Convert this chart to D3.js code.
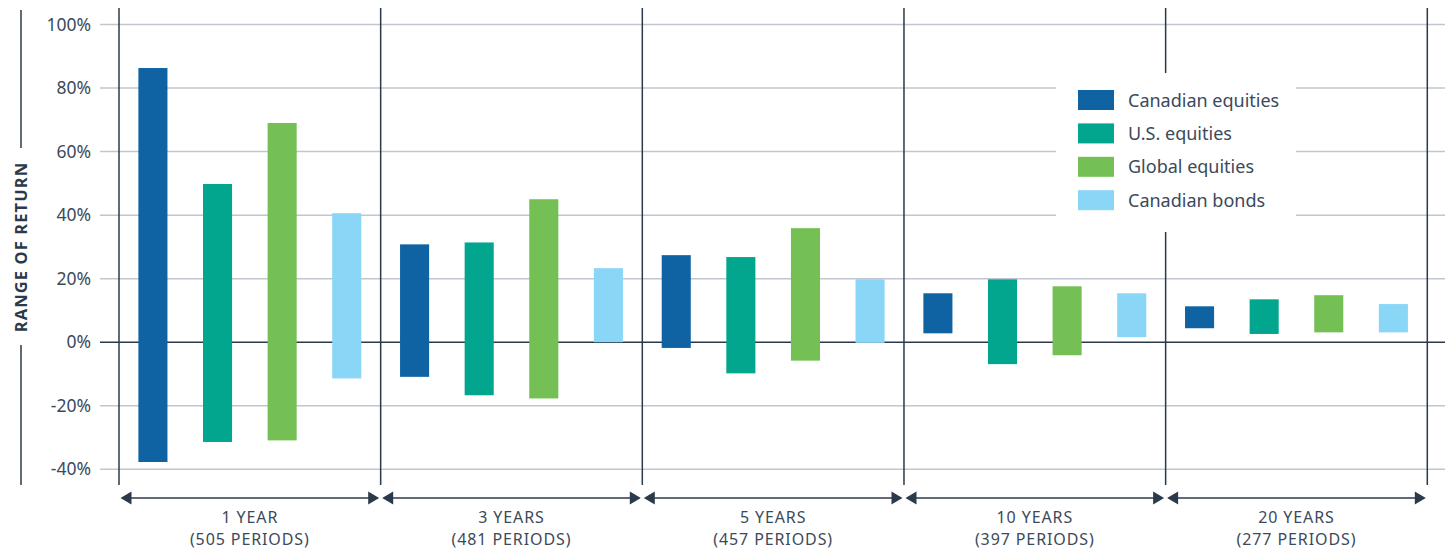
<!DOCTYPE html>
<html><head><meta charset="utf-8">
<script src="https://cdn.jsdelivr.net/npm/d3@7"></script>
<style>
html,body{margin:0;padding:0;background:#fff;}
svg{display:block;font-family:"Noto Sans",Lato,sans-serif;}
</style></head>
<body><svg id="c" width="1450" height="550"></svg>
<script>
const periods = ["1 YEAR","3 YEARS","5 YEARS","10 YEARS","20 YEARS"];
const periodCounts = ["(505 PERIODS)","(481 PERIODS)","(457 PERIODS)","(397 PERIODS)","(277 PERIODS)"];
const seriesNames = ["Canadian equities","U.S. equities","Global equities","Canadian bonds"];
const seriesColors = ["#0f63a2","#02a68e","#74c055","#89d6f6"];
// [low, high] per period
const canadianEquities = [[-37.7,86.3],[-10.9,30.8],[-1.8,27.4],[2.8,15.4],[4.4,11.3]];
const usEquities       = [[-31.4,49.8],[-16.7,31.4],[-9.8,26.8],[-6.9,19.8],[2.6,13.5]];
const globalEquities   = [[-30.9,69.0],[-17.7,45.0],[-5.8,35.9],[-4.1,17.6],[3.1,14.8]];
const canadianBonds    = [[-11.4,40.6],[0,23.3],[-0.2,19.8],[1.6,15.4],[3.1,12.0]];
const yTicks = [-40,-20,0,20,40,60,80,100];

const seriesData = [canadianEquities, usEquities, globalEquities, canadianBonds];
const svg = d3.select("#c");
const textCol = "#3b4a5a", dark = "#2b3a4a", gridCol = "#bfc6cd";

const x = d3.scaleBand().domain(periods).range([119, 1427.3]).padding(0);
const xs = d3.scaleBand().domain(seriesNames).range([0, x.bandwidth()]).paddingInner(0.55).paddingOuter(0.3);
const y = d3.scaleLinear().domain([-40, 100]).range([469.3, 24.5]);

// gridlines
svg.append("g").selectAll("line").data(yTicks).join("line")
  .attr("x1", 100).attr("x2", 1445)
  .attr("y1", d => y(d)).attr("y2", d => y(d))
  .attr("stroke", d => d === 0 ? dark : gridCol)
  .attr("stroke-width", 1.5);

// y axis labels
const yAxis = d3.axisLeft(y).tickValues(yTicks).tickFormat(d => d + "%").tickSize(0).tickPadding(0);
const ya = svg.append("g").attr("transform", "translate(91,0)").call(yAxis);
ya.select(".domain").remove();
ya.selectAll("text").attr("font-size", 17.5).attr("fill", textCol).attr("font-family", "'Noto Sans',Lato,sans-serif");

// vertical separators
const seps = periods.map(p => x(p)).concat([x(periods[periods.length-1]) + x.bandwidth()]);
svg.append("g").selectAll("line").data(seps).join("line")
  .attr("x1", d => d).attr("x2", d => d).attr("y1", 8).attr("y2", 485)
  .attr("stroke", dark).attr("stroke-width", 1.5);

// bars
periods.forEach((p, i) => {
  const g = svg.append("g").attr("transform", `translate(${x(p)},0)`);
  g.selectAll("rect").data(seriesNames).join("rect")
    .attr("x", s => xs(s)).attr("width", xs.bandwidth())
    .attr("y", (s, k) => y(seriesData[k][i][1]))
    .attr("height", (s, k) => Math.max(1, y(seriesData[k][i][0]) - y(seriesData[k][i][1])))
    .attr("fill", (s, k) => seriesColors[k]);
});

// arrows + period labels
periods.forEach((p, i) => {
  const x0 = x(p) + 1.5, x1 = x(p) + x.bandwidth() - 1.5, ay = 498;
  const g = svg.append("g");
  g.append("line").attr("x1", x0 + 8).attr("x2", x1 - 8).attr("y1", ay).attr("y2", ay)
    .attr("stroke", dark).attr("stroke-width", 1.6);
  g.append("path").attr("d", `M${x0},${ay}L${x0+11},${ay-6.5}L${x0+11},${ay+6.5}Z`).attr("fill", dark);
  g.append("path").attr("d", `M${x1},${ay}L${x1-11},${ay-6.5}L${x1-11},${ay+6.5}Z`).attr("fill", dark);
  const cx = x(p) + x.bandwidth() / 2;
  g.append("text").attr("x", cx).attr("y", 523).attr("text-anchor", "middle")
    .attr("font-size", 16).attr("letter-spacing", 0.9).attr("fill", textCol).text(p);
  g.append("text").attr("x", cx).attr("y", 545).attr("text-anchor", "middle")
    .attr("font-size", 16).attr("letter-spacing", 0.9).attr("fill", textCol).text(periodCounts[i]);
});

// axis title
svg.append("line").attr("x1", 21).attr("x2", 21).attr("y1", 10).attr("y2", 148).attr("stroke", dark).attr("stroke-width", 1.5);
svg.append("line").attr("x1", 21).attr("x2", 21).attr("y1", 345).attr("y2", 485).attr("stroke", dark).attr("stroke-width", 1.5);
svg.append("text").attr("transform", "translate(26.5,247) rotate(-90)").attr("text-anchor", "middle")
  .attr("font-size", 16.5).attr("font-weight", "bold").attr("fill", "#2b3a4a").attr("letter-spacing", 1.1)
  .text("RANGE OF RETURN");

// legend
const lg = svg.append("g");
lg.append("rect").attr("x", 1056).attr("y", 73).attr("width", 240).attr("height", 159).attr("fill", "#fff");
const li = lg.selectAll("g").data(seriesNames).join("g")
  .attr("transform", (d, i) => `translate(1078,${90 + i * 33.4})`);
li.append("rect").attr("width", 36).attr("height", 20).attr("fill", (d, i) => seriesColors[i]);
li.append("text").attr("x", 50).attr("y", 16.5).attr("font-size", 18).attr("fill", textCol).text(d => d);
</script></body></html>
